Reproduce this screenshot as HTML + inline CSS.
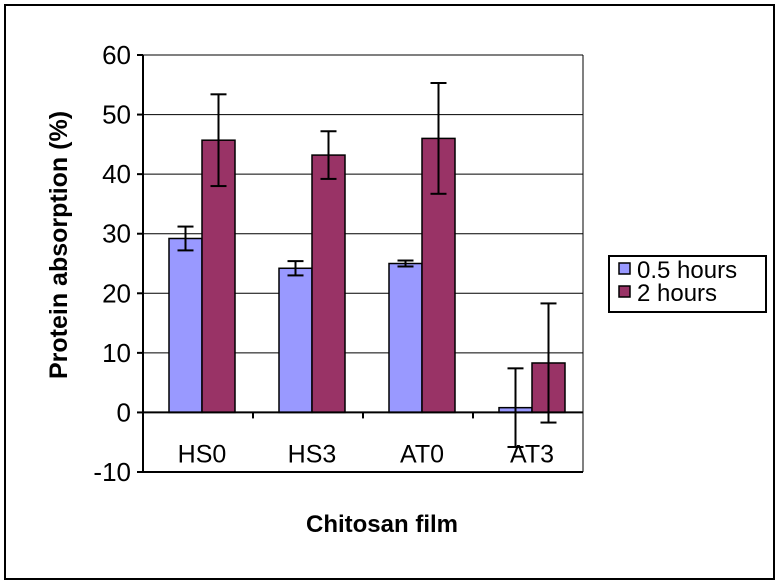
<!DOCTYPE html>
<html><head><meta charset="utf-8"><style>
body{margin:0;background:#fff;}
svg{display:block;font-family:"Liberation Sans",Arial,sans-serif;}
</style></head><body>
<svg id="chart" width="781" height="586">
<rect x="5" y="5" width="769" height="574" fill="#fff" stroke="#000" stroke-width="2"/>
<g id="grid"></g><g id="bars"></g><g id="axes"></g>
<text x="67" y="245" transform="rotate(-90 67 245)" text-anchor="middle" font-size="25" font-weight="bold">Protein absorption (%)</text>
<text x="382" y="532" text-anchor="middle" font-size="24" font-weight="bold">Chitosan film</text>
<g>
<rect x="609" y="256" width="157" height="56" fill="#fff" stroke="#000" stroke-width="2"/>
<g><rect x="619" y="263" width="11" height="11" fill="#9999ff" stroke="#000" stroke-width="1.5"/><text x="637" y="278" font-size="24">0.5 hours</text></g>
<g><rect x="619" y="286" width="11" height="11" fill="#993366" stroke="#000" stroke-width="1.5"/><text x="637" y="301" font-size="24">2 hours</text></g>
</g>
</svg>
<script>
const categories=["HS0","HS3","AT0","AT3"];
const series1=[29.2,24.2,25.0,0.8];
const series1Err=[2.0,1.2,0.5,6.6];
const series2=[45.7,43.2,46.0,8.3];
const series2Err=[7.7,4.0,9.3,10.0];
const yTicks=[-10,0,10,20,30,40,50,60];
const NS="http://www.w3.org/2000/svg";
const L=143,R=583,T=55,B=472,ymin=-10,ymax=60;
const y=v=>B-(v-ymin)/(ymax-ymin)*(B-T);
const cw=(R-L)/categories.length;
function mk(p,t,a){const e=document.createElementNS(NS,t);for(const k in a)e.setAttribute(k,a[k]);p.appendChild(e);return e;}
const grid=document.getElementById('grid'),bars=document.getElementById('bars'),axes=document.getElementById('axes');
yTicks.forEach(t=>{
 if(t!==ymin&&t!==0){const g=mk(grid,'line',{x1:L,x2:R,y1:y(t),y2:y(t),stroke:'#000','stroke-width':1});
 }
 const tx=mk(axes,'text',{x:L-12,y:y(t)+9,'text-anchor':'end','font-size':26});tx.textContent=t;
 
 mk(axes,'line',{x1:L-6,x2:L,y1:y(t),y2:y(t),stroke:'#000','stroke-width':2});
});
mk(axes,'line',{x1:L,x2:L,y1:T,y2:B,stroke:'#000','stroke-width':2});
mk(axes,'line',{x1:R,x2:R,y1:T,y2:B,stroke:'#000','stroke-width':1});
mk(axes,'line',{x1:L,x2:R,y1:T,y2:T,stroke:'#000','stroke-width':1});
mk(axes,'line',{x1:L,x2:R,y1:B,y2:B,stroke:'#000','stroke-width':2});
mk(axes,'line',{x1:L,x2:R,y1:y(0),y2:y(0),stroke:'#000','stroke-width':2});
const bw=33;
function err(v,e,cx,name){const g=mk(bars,'g',{stroke:'#000','stroke-width':2});
 
 mk(g,'line',{x1:cx,x2:cx,y1:y(v+e),y2:y(v-e)});
 mk(g,'line',{x1:cx-8,x2:cx+8,y1:y(v+e),y2:y(v+e)});
 mk(g,'line',{x1:cx-8,x2:cx+8,y1:y(v-e),y2:y(v-e)});}
categories.forEach((c,i)=>{
 const x0=L+i*cw+cw/2-bw+4;
 if(i>0)mk(axes,'line',{x1:L+i*cw,x2:L+i*cw,y1:y(0),y2:y(0)+6,stroke:'#000','stroke-width':2});
 [[series1,series1Err,'#9999ff','0-5h'],[series2,series2Err,'#993366','2h']].forEach(([s,e,col,n],k)=>{
  const v=s[i],x=x0+k*bw;
  const r=mk(bars,'rect',{x:x,y:Math.min(y(v),y(0)),width:bw,height:Math.abs(y(0)-y(v)),fill:col,stroke:'#000','stroke-width':1.5});
  
  err(v,e[i],x+bw/2,'error-bar-'+c.toLowerCase()+'-'+n);
 });
 const t=mk(axes,'text',{x:L+i*cw+cw/2+4,y:y(0)+50,'text-anchor':'middle','font-size':25});t.textContent=c;
 
});
</script>
</body></html>
